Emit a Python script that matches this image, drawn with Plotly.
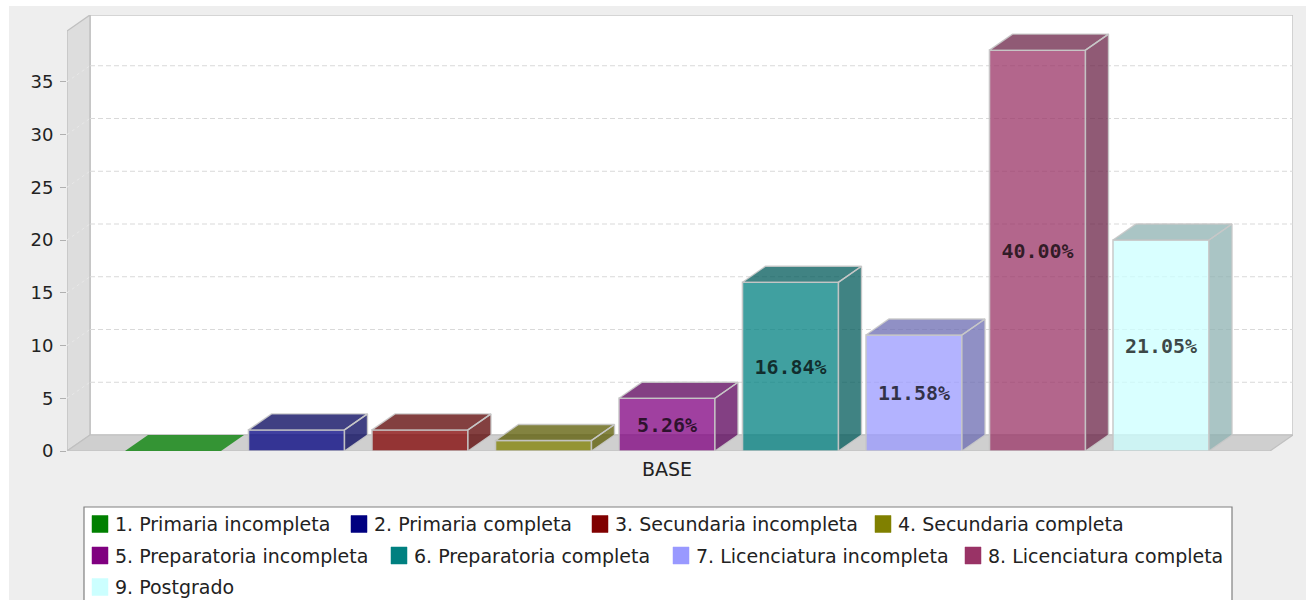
import plotly.graph_objects as go

# ---- data ----
categories = ["BASE"]
series_names = ["1. Primaria incompleta", "2. Primaria completa", "3. Secundaria incompleta",
                "4. Secundaria completa", "5. Preparatoria incompleta", "6. Preparatoria completa",
                "7. Licenciatura incompleta", "8. Licenciatura completa", "9. Postgrado"]
series_values = [0, 2, 2, 1, 5, 16, 11, 38, 20]
bar_labels = ["", "", "", "", "5.26%", "16.84%", "11.58%", "40.00%", "21.05%"]
y_ticks = [0, 5, 10, 15, 20, 25, 30, 35]

# ---- styles ----
front_rgb = [(0, 128, 0), (0, 0, 128), (128, 0, 0), (128, 128, 0), (128, 0, 128),
             (0, 128, 128), (153, 153, 255), (153, 51, 102), (204, 255, 255)]
ALPHA = 0.75
W, H = 1306, 600
PX_L, PX_R, PX_T, PX_B = 67, 1293, 15, 451      # plot rectangle, in page pixels
STEP_PX, BAR0_PX = 123.5, 173
Y_PX = 10.55
DEPTH_X_PX, DEPTH_Y_PX = 23, 16
BAR_W = 96 / STEP_PX
DX, DY = DEPTH_X_PX / STEP_PX, DEPTH_Y_PX / Y_PX
XMIN, XMAX = (PX_L - BAR0_PX) / STEP_PX, (PX_R - BAR0_PX) / STEP_PX
YMAX = (PX_B - PX_T) / Y_PX
EDGE = "rgba(200,200,200,0.9)"
TXT = "#222222"


def px(x):
    return (x - PX_L) / (PX_R - PX_L)


def py(y):
    return (PX_B - y) / (PX_B - PX_T)


def rgba(c, f=1.0):
    return "rgba(%d,%d,%d,%s)" % (c[0] * f, c[1] * f, c[2] * f, ALPHA)


def hexs(c):
    return "#%02x%02x%02x" % c


def poly(pts):
    return "M" + "L".join("%f,%f" % p for p in pts) + "Z"


fig = go.Figure()
for i, (name, v, lab, c) in enumerate(zip(series_names, series_values, bar_labels, front_rgb)):
    fig.add_trace(go.Bar(
        x=[i], y=[v], width=BAR_W, name=name, text=[lab], textposition="inside",
        insidetextanchor="middle", textangle=0, constraintext="none",
        insidetextfont=dict(family="DejaVu Sans Mono", size=20, color="rgba(0,0,0,0.72)", weight="bold"),
        marker=dict(color=rgba(c), line=dict(color=EDGE, width=1.6 if v else 0)),
        showlegend=False, hoverinfo="x+y"))

for i, (v, c) in enumerate(zip(series_values, front_rgb)):
    x0, x1 = i - BAR_W / 2, i + BAR_W / 2
    xs = [x0, x0 + DX, x1 + DX, x1, x0]
    ys = [v, v + DY, v + DY, v, v]
    if v:
        xs += [None, x1, x1 + DX, x1 + DX, x1, x1]
        ys += [None, 0, DY, v + DY, v, 0]
    fig.add_trace(go.Scatter(x=xs, y=ys, mode="lines", fill="toself",
                             fillcolor=rgba(c, 0.7 if v else 1.0),
                             line=dict(color=EDGE, width=1.4 if v else 0),
                             showlegend=False, hoverinfo="skip"))

shapes = [
    dict(type="rect", xref="paper", yref="paper", x0=px(9), x1=px(W + 2), y0=py(6), y1=py(H + 2),
         fillcolor="#eeeeee", line_width=0, layer="below"),
    dict(type="path", xref="x", yref="y", path=poly([(XMIN + DX, DY), (XMAX, DY), (XMAX, YMAX), (XMIN + DX, YMAX)]),
         fillcolor="#ffffff", line=dict(color="#c8c8c8", width=1.6), layer="below"),
    dict(type="path", xref="x", yref="y",
         path=poly([(XMIN, 0), (XMIN + DX, DY), (XMIN + DX, YMAX), (XMIN, YMAX - DY)]),
         fillcolor="#dddddd", line=dict(color="#c0c0c0", width=1.4), layer="below"),
    dict(type="path", xref="x", yref="y",
         path=poly([(XMIN, 0), (XMIN + DX, DY), (XMAX, DY), (XMAX - DX, 0)]),
         fillcolor="#cfcfcf", line=dict(color="#c0c0c0", width=1.2), layer="below"),
]
for t in y_ticks[1:]:
    shapes.append(dict(type="line", xref="x", yref="y", x0=XMIN + DX, x1=XMAX, y0=t + DY, y1=t + DY,
                       line=dict(color="#d9d9d9", width=1, dash="5px,3px"), layer="below"))
    shapes.append(dict(type="line", xref="x", yref="y", x0=XMIN, x1=XMIN + DX, y0=t, y1=t + DY,
                       line=dict(color="#e8e8e8", width=1, dash="3px,3px"), layer="below"))

# legend box, drawn to keep the uneven wrapped rows of the original
shapes.append(dict(type="rect", xref="paper", yref="paper", x0=px(84), x1=px(1232), y0=py(507), y1=py(H + 4),
                   fillcolor="#ffffff", line=dict(color="#808080", width=1.2), layer="below"))
legend_x = [92, 351, 592, 875, 92, 391, 673, 965, 92]
legend_y = [524, 524, 524, 524, 555.5, 555.5, 555.5, 555.5, 587]
annotations = []
for name, c, lx, ly in zip(series_names, front_rgb, legend_x, legend_y):
    shapes.append(dict(type="rect", xref="paper", yref="paper", x0=px(lx), x1=px(lx + 16),
                       y0=py(ly - 8.5), y1=py(ly + 8.5), fillcolor=hexs(c),
                       line=dict(color=hexs(c), width=0.5), layer="above"))
    annotations.append(dict(xref="paper", yref="paper", x=px(lx + 21), y=py(ly), text=name, showarrow=False,
                            xanchor="left", yanchor="middle", font=dict(family="DejaVu Sans", size=19, color=TXT)))

fig.update_layout(
    width=W, height=H, autosize=False, barmode="overlay",
    margin=dict(l=PX_L, r=W - PX_R, t=PX_T, b=H - PX_B, pad=0),
    paper_bgcolor="#ffffff", plot_bgcolor="rgba(0,0,0,0)",
    font=dict(family="DejaVu Sans", size=19, color=TXT),
    shapes=shapes, annotations=annotations, showlegend=False,
    xaxis=dict(range=[XMIN, XMAX], tickmode="array", tickvals=[4], ticktext=categories,
               showgrid=False, zeroline=False, ticks="", showline=False, ticklabelstandoff=5),
    yaxis=dict(range=[0, YMAX], tickmode="array", tickvals=y_ticks, showgrid=False, zeroline=False,
               ticks="outside", ticklen=6, tickcolor="#b0b0b0", showline=False, tickfont=dict(size=18),
               ticklabelstandoff=3),
)
fig.write_html("out.html", config={"displayModeBar": False},
               post_script="document.body.style.margin='0';document.body.style.overflow='hidden';")
